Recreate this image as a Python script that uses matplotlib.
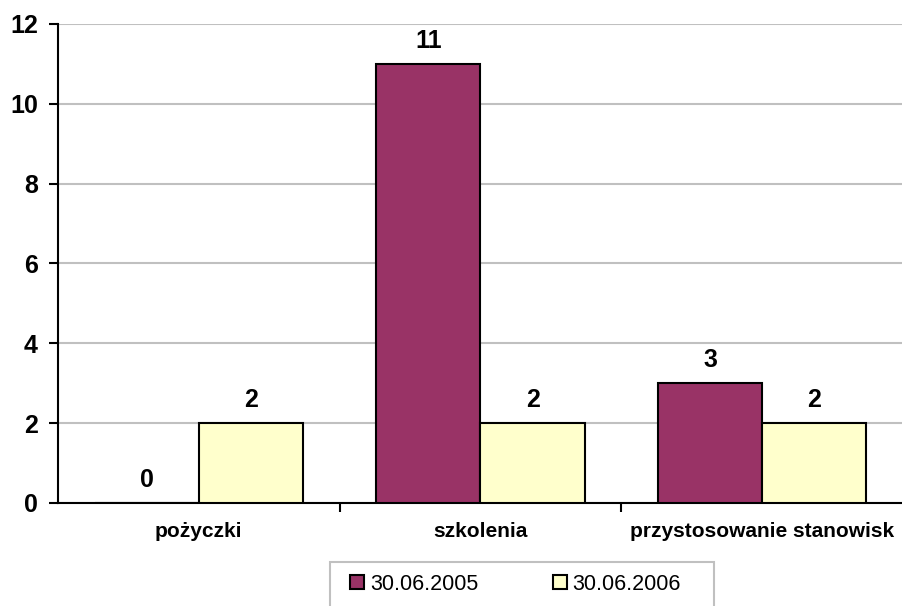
import numpy as np
import matplotlib
matplotlib.use("Agg")
import matplotlib.pyplot as plt
from matplotlib.patches import Rectangle

plt.rcParams['font.family'] = ['Liberation Sans', 'DejaVu Sans']

categories = ["pożyczki", "szkolenia", "przystosowanie stanowisk"]
series_names = ["30.06.2005", "30.06.2006"]
values_2005 = [0, 11, 3]
values_2006 = [2, 2, 2]
colors = ["#993366", "#FFFFCC"]

fig = plt.figure(figsize=(9.03, 6.06), dpi=100)
ax = fig.add_axes([0.0642, 0.170, 0.9358, 0.7904])

x = np.arange(len(categories))
w = 0.37
b1 = ax.bar(x - w / 2, values_2005, w, color=colors[0], edgecolor="black", linewidth=1.5,
            label=series_names[0], zorder=3)
b2 = ax.bar(x + w / 2, values_2006, w, color=colors[1], edgecolor="black", linewidth=1.5,
            label=series_names[1], zorder=3)

for bars, vals in [(b1, values_2005), (b2, values_2006)]:
    for r, v in zip(bars, vals):
        ax.text(r.get_x() + r.get_width() / 2, v + 0.28, str(v), ha="center", va="bottom",
                fontsize=18, fontweight="bold")

ax.set_xlim(-0.5, 2.5)
ax.set_ylim(0, 12)
ax.set_yticks(range(0, 13, 2))
ax.yaxis.grid(True, color="#c0c0c0", linewidth=1.5, zorder=0)
ax.set_axisbelow(True)

ax.set_xticks(x)
ax.set_xticklabels(categories, fontsize=15, fontweight="bold")
ax.tick_params(axis="x", length=0, pad=14)
ax.set_xticks([0.5, 1.5], minor=True)
ax.tick_params(axis="x", which="minor", length=6.5, width=1.5, direction="out")
ax.tick_params(axis="y", length=6.5, width=1.5, direction="out", labelsize=18, pad=8)
for lab in ax.get_yticklabels():
    lab.set_fontweight("bold")

for s in ["top", "right"]:
    ax.spines[s].set_visible(False)
for s in ["left", "bottom"]:
    ax.spines[s].set_linewidth(1.5)

# legend box runs off the bottom edge, as in the original
fig.patches.append(Rectangle((330 / 903, -0.05), 384 / 903, 0.05 + 44 / 606,
                             transform=fig.transFigure, facecolor="white",
                             edgecolor="#c0c0c0", linewidth=1.5))
leg = fig.legend(loc="center left", bbox_to_anchor=(331 / 903, 1 - 584 / 606), ncol=2,
                 fontsize=15.5, frameon=False, handlelength=0.65, handleheight=0.65,
                 columnspacing=3.5, handletextpad=0.25)

fig.savefig("out.png", dpi=100)
